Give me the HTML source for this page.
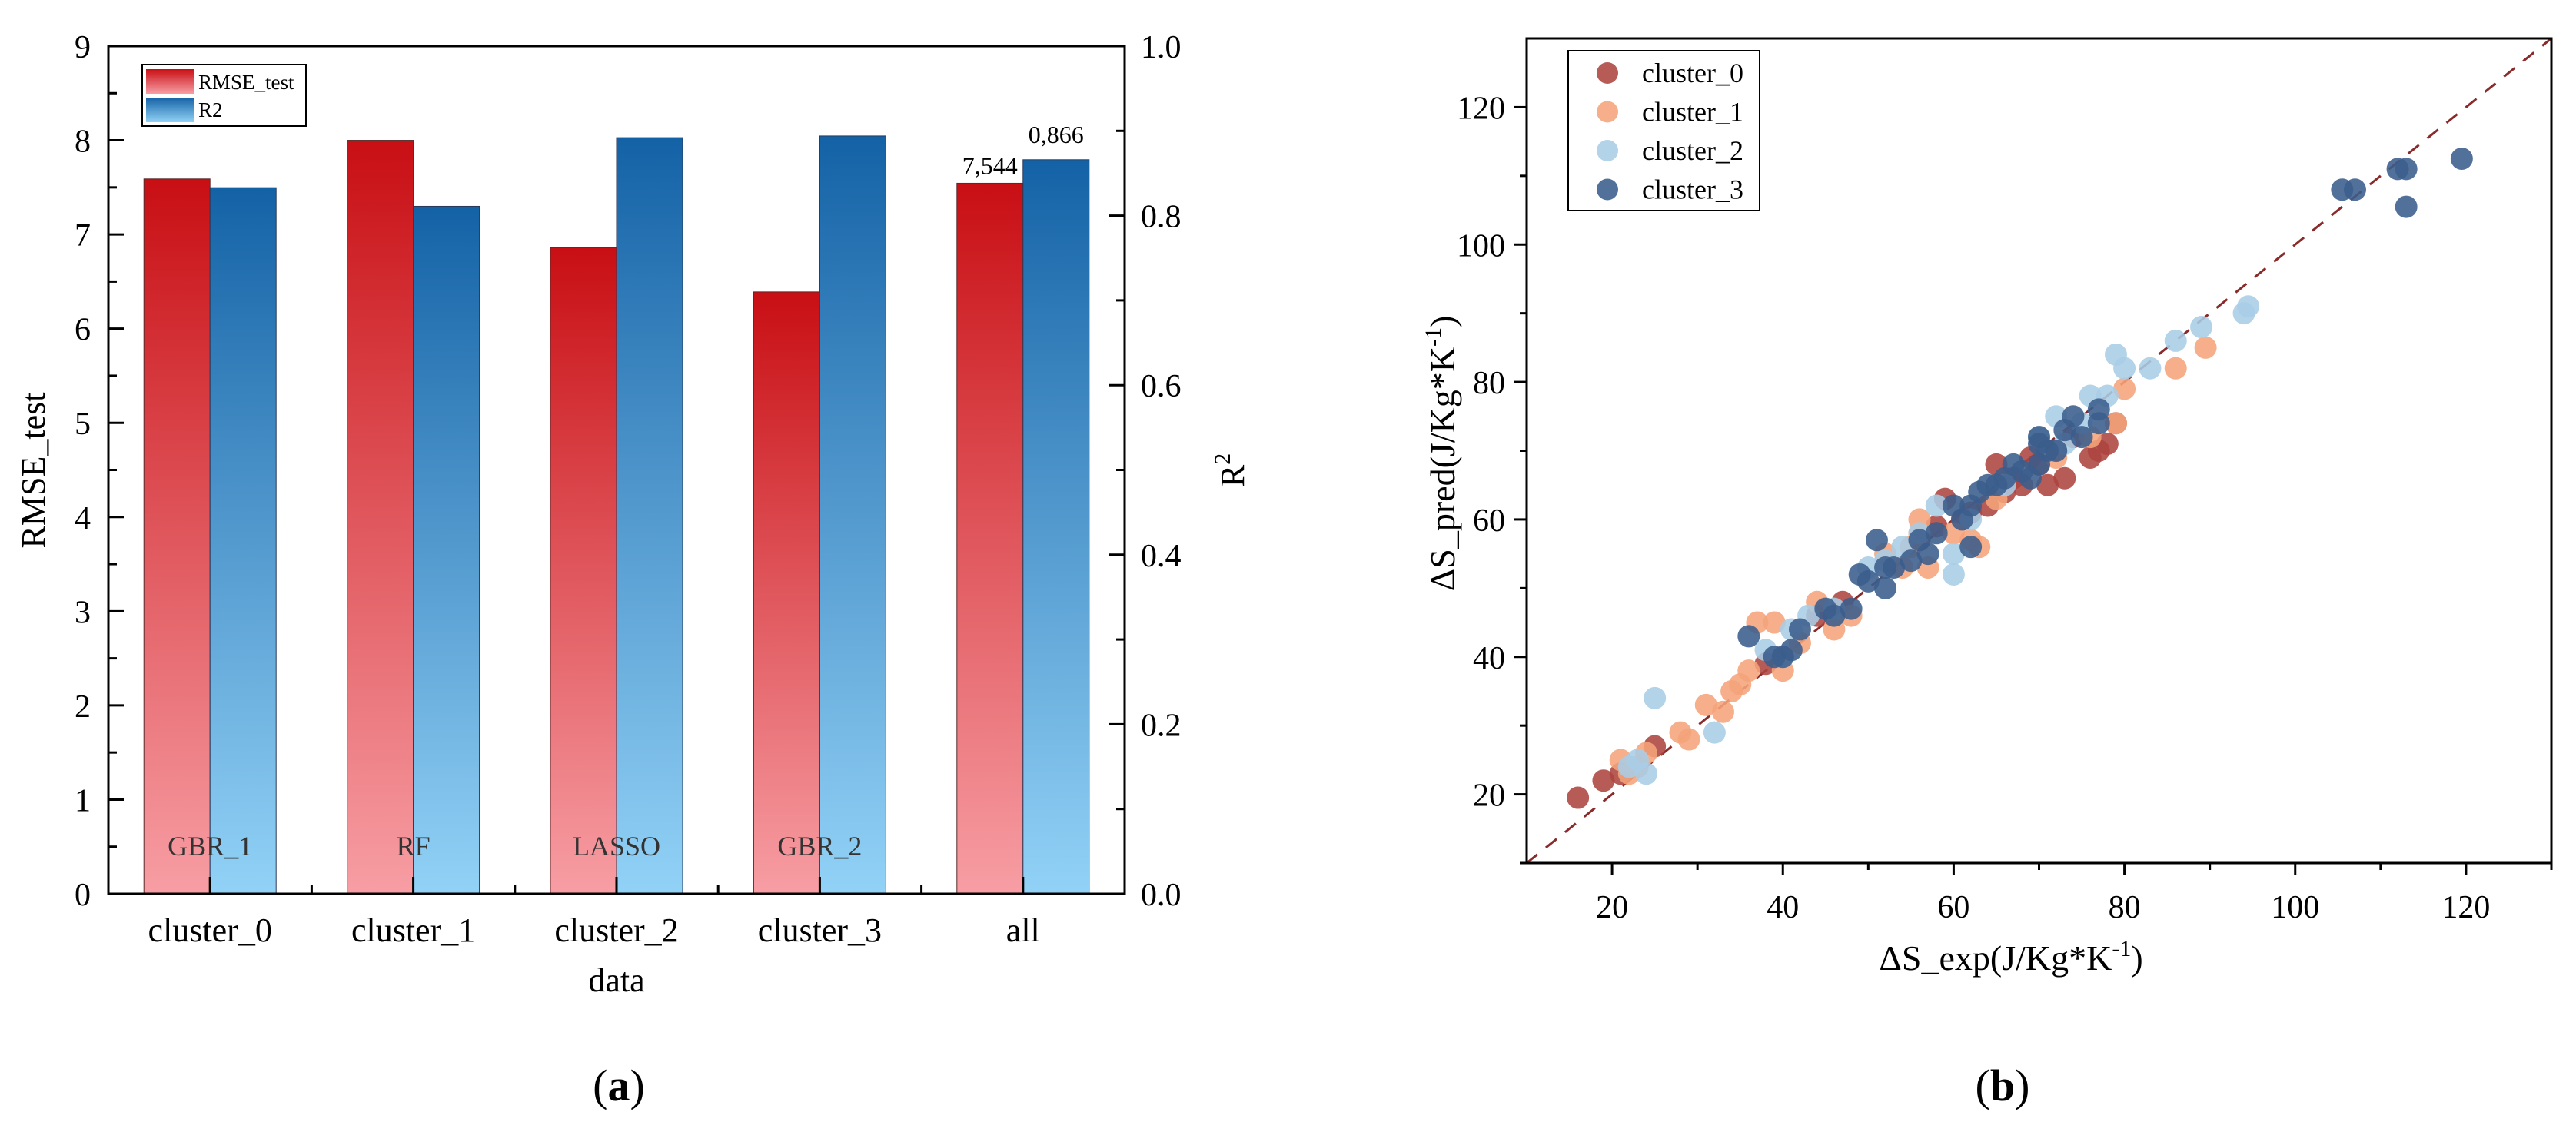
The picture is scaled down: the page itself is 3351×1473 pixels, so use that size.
<!DOCTYPE html>
<html><head><meta charset="utf-8"><style>
html,body{margin:0;padding:0;background:#fff;}
svg{display:block;font-family:"Liberation Serif",serif;}
</style></head><body>
<svg id="fig" width="3351" height="1473" viewBox="0 0 3351 1473">
<defs>
<linearGradient id="gRed" x1="0" y1="0" x2="0" y2="1"><stop offset="0" stop-color="#c80f14"/><stop offset="1" stop-color="#f79ea4"/></linearGradient>
<linearGradient id="gBlue" x1="0" y1="0" x2="0" y2="1"><stop offset="0" stop-color="#1462a6"/><stop offset="1" stop-color="#92d2f7"/></linearGradient>
</defs>
<g id="chartA"></g>
<g id="chartB"></g>
<text x="805" y="1432" font-size="58" text-anchor="middle">(<tspan font-weight="bold">a</tspan>)</text>
<text x="2605" y="1432" font-size="58" text-anchor="middle">(<tspan font-weight="bold">b</tspan>)</text>
</svg>
<script>
// ---- Chart A data ----
const categories = ["cluster_0","cluster_1","cluster_2","cluster_3","all"];
const rmseValues = [7.59, 8.0, 6.86, 6.39, 7.544];
const r2Values = [0.833, 0.811, 0.892, 0.894, 0.866];
const modelNames = ["GBR_1","RF","LASSO","GBR_2",""];
const leftTicks = [0,1,2,3,4,5,6,7,8,9];
const rightTicks = [0.0,0.2,0.4,0.6,0.8,1.0];

// ---- Chart B data ----
const c0x=[16,19,21,25,38,44,47,58,59,61,64,65,66,67,68,69,70,72,74,76,77,78,79,62,73,71,56];
const c0y=[19.5,22,23,27,39,46,48,59,63,60,62,68,64,66,65,69,68,70,72,69,70,71,74,61,66,65,57];
const c1x=[21,22,23,24,28,29,31,33,34,35,36,37,39,40,42,44,46,48,52,54,55,56,57,60,63,62,65,72,76,80,86,89.5,79,56];
const c1y=[25,23,24,26,29,28,33,32,35,36,38,45,45,38,42,48,44,46,55,53,56,58,53,58,56,57,63,69,72,79,82,85,74,60];
const c2x=[22,23,24,25,32,38,40,41,43,46,50,52,54,56,58,60,62,66,70,72,75,76,78,79,80,83,86,89,94,94.5,73,60];
const c2y=[24,25,23,34,29,41,40,44,46,47,53,54,56,58,62,52,60,65,72,75,74,78,78,84,82,82,86,88,90,91,71,55];
const c3x=[105.5,107,112,113,113,119.5,77,77,75,74,73,71,70,68,67,66,65,63,62,61,64,70,72,69,58,57,56,55,53,52,51,50,49,48,46,45,42,41,40,39,36,52,60,62,70];
const c3y=[108,108,111,111,105.5,112.5,76,74,72,75,73,70,71,67,68,66,65,64,62,60,65,68,70,66,58,55,57,54,53,53,57,51,52,47,46,47,44,41,40,40,43,50,62,56,72];
const seriesNames=["cluster_0","cluster_1","cluster_2","cluster_3"];
const seriesColors=["#ad4440","#f5a47a","#a8cde6","#3a5d8c"];
const bTicks=[20,40,60,80,100,120];

const NS="http://www.w3.org/2000/svg";
function mk(tag,attrs,parent,txt){const e=document.createElementNS(NS,tag);for(const k in attrs)e.setAttribute(k,attrs[k]);if(txt!==undefined)e.textContent=txt;parent.appendChild(e);return e;}

// ===== Chart A =====
(function(){
const g=document.getElementById('chartA');
const L=141,R=1463,T=60,B=1163;
const yL=v=>B-(v/9)*(B-T);
const yR=v=>B-(v/1.0)*(B-T);
const step=(R-L)/categories.length;
const xC=i=>L+step*(i+0.5);
const bw=86;
categories.forEach((c,i)=>{
  const r=mk('rect',{x:xC(i)-bw,y:yL(rmseValues[i]),width:bw,height:B-yL(rmseValues[i]),fill:'url(#gRed)',stroke:'#5a2a2a','stroke-width':1},g);
  
  
  const b=mk('rect',{x:xC(i),y:yR(r2Values[i]),width:bw,height:B-yR(r2Values[i]),fill:'url(#gBlue)',stroke:'#2a3a5a','stroke-width':1},g);
  
  
  if(modelNames[i]){
    const t=mk('text',{x:xC(i),y:1113,'font-size':36,'text-anchor':'middle',fill:'#333'},g,modelNames[i]);
    
    
  }
  const xt=mk('text',{x:xC(i),y:1225,'font-size':44,'text-anchor':'middle'},g,c);
  
  
  const tk=mk('line',{x1:xC(i),x2:xC(i),y1:B,y2:B-22,stroke:'#000','stroke-width':3},g);
  
  
  if(i<categories.length-1){
    const mt=mk('line',{x1:xC(i)+step/2,x2:xC(i)+step/2,y1:B,y2:B-12,stroke:'#000','stroke-width':3},g);
    
    
  }
});
const last=categories.length-1;
const v1=mk('text',{x:xC(last)-bw/2,y:yL(rmseValues[last])-12,'font-size':32,'text-anchor':'middle'},g,rmseValues[last].toFixed(3).replace('.',','));


const v2=mk('text',{x:xC(last)+bw/2,y:yR(r2Values[last])-22,'font-size':32,'text-anchor':'middle'},g,r2Values[last].toFixed(3).replace('.',','));


const fr=mk('rect',{x:L,y:T,width:R-L,height:B-T,fill:'none',stroke:'#000','stroke-width':3},g);


leftTicks.forEach(v=>{
  const t=mk('text',{x:118,y:yL(v)+15,'font-size':42,'text-anchor':'end'},g,String(v));
  
  
  const l=mk('line',{x1:L,x2:L+20,y1:yL(v),y2:yL(v),stroke:'#000','stroke-width':3},g);
  
  
  if(v<9){const m=mk('line',{x1:L,x2:L+11,y1:yL(v+0.5),y2:yL(v+0.5),stroke:'#000','stroke-width':3},g);
  
  }
});
rightTicks.forEach(v=>{
  const t=mk('text',{x:1484,y:yR(v)+15,'font-size':42,'text-anchor':'start'},g,v.toFixed(1));
  
  
  const l=mk('line',{x1:R,x2:R-20,y1:yR(v),y2:yR(v),stroke:'#000','stroke-width':3},g);
  
  
  if(v<1){const m=mk('line',{x1:R,x2:R-11,y1:yR(v+0.1),y2:yR(v+0.1),stroke:'#000','stroke-width':3},g);
  
  }
});
const yt=mk('text',{x:0,y:0,'font-size':44,'text-anchor':'middle',transform:'translate(58,612) rotate(-90)'},g,'RMSE_test');


const rt=mk('text',{x:0,y:0,'font-size':44,'text-anchor':'middle',transform:'translate(1618,612) rotate(-90)'},g);


rt.innerHTML='R<tspan dy="-18" font-size="30">2</tspan>';
const xtl=mk('text',{x:(L+R)/2,y:1290,'font-size':44,'text-anchor':'middle'},g,'data');


// legend
const lg=mk('g',{},g);


mk('rect',{x:185,y:84,width:213,height:80,fill:'#fff',stroke:'#000','stroke-width':2},lg);
const s1=mk('rect',{x:190,y:90,width:62,height:32,fill:'url(#gRed)'},lg);


const s2=mk('rect',{x:190,y:127,width:62,height:32,fill:'url(#gBlue)'},lg);


const lt1=mk('text',{x:258,y:116,'font-size':27},lg,'RMSE_test');


const lt2=mk('text',{x:258,y:152,'font-size':27},lg,'R2');


})();

// ===== Chart B =====
(function(){
const g=document.getElementById('chartB');
const L=1986,R=3319,T=50,B=1123,lo=10,hi=130;
const xS=v=>L+(v-lo)/(hi-lo)*(R-L);
const yS=v=>B-(v-lo)/(hi-lo)*(B-T);
const dl=mk('line',{x1:xS(lo),y1:yS(lo),x2:xS(hi),y2:yS(hi),stroke:'#8a2b2b','stroke-width':3,'stroke-dasharray':'18,14'},g);


const xs=[c0x,c1x,c2x,c3x], ys=[c0y,c1y,c2y,c3y];
xs.forEach((arr,s)=>{
  arr.forEach((xv,i)=>{
    const c=mk('circle',{cx:xS(xv),cy:yS(ys[s][i]),r:14.5,fill:seriesColors[s],'fill-opacity':0.88},g);
    
    
  });
});
const fr=mk('rect',{x:L,y:T,width:R-L,height:B-T,fill:'none',stroke:'#000','stroke-width':3},g);


bTicks.forEach(v=>{
  const tx=mk('text',{x:xS(v),y:1194,'font-size':42,'text-anchor':'middle'},g,String(v));
  
  
  const ty=mk('text',{x:1958,y:yS(v)+15,'font-size':42,'text-anchor':'end'},g,String(v));
  
  
  const a=mk('line',{x1:xS(v),x2:xS(v),y1:B,y2:B+16,stroke:'#000','stroke-width':3},g);
  
  
  const b=mk('line',{x1:L,x2:L-16,y1:yS(v),y2:yS(v),stroke:'#000','stroke-width':3},g);
  
  
  const m1=mk('line',{x1:xS(v+10),x2:xS(v+10),y1:B,y2:B+9,stroke:'#000','stroke-width':3},g);
  
  
  const m2=mk('line',{x1:L,x2:L-9,y1:yS(v-10),y2:yS(v-10),stroke:'#000','stroke-width':3},g);
  
  
});
const xt=mk('text',{x:2616,y:1262,'font-size':46,'text-anchor':'middle'},g);


xt.innerHTML='ΔS_exp(J/Kg*K<tspan dy="-18" font-size="30">-1</tspan><tspan dy="18">)</tspan>';
const yt=mk('text',{x:0,y:0,'font-size':46,'text-anchor':'middle',transform:'translate(1892,590) rotate(-90)'},g);


yt.innerHTML='ΔS_pred(J/Kg*K<tspan dy="-18" font-size="30">-1</tspan><tspan dy="18">)</tspan>';
const lg=mk('g',{},g);


mk('rect',{x:2040,y:66,width:249,height:208,fill:'#fff',stroke:'#000','stroke-width':2},lg);
seriesNames.forEach((n,i)=>{
  const y=95+i*50.5;
  const c=mk('circle',{cx:2091,cy:y,r:14,fill:seriesColors[i],'fill-opacity':0.88},lg);
  
  
  const t=mk('text',{x:2136,y:y+12,'font-size':36},lg,n);
  
  
});
})();
</script>
</body></html>
